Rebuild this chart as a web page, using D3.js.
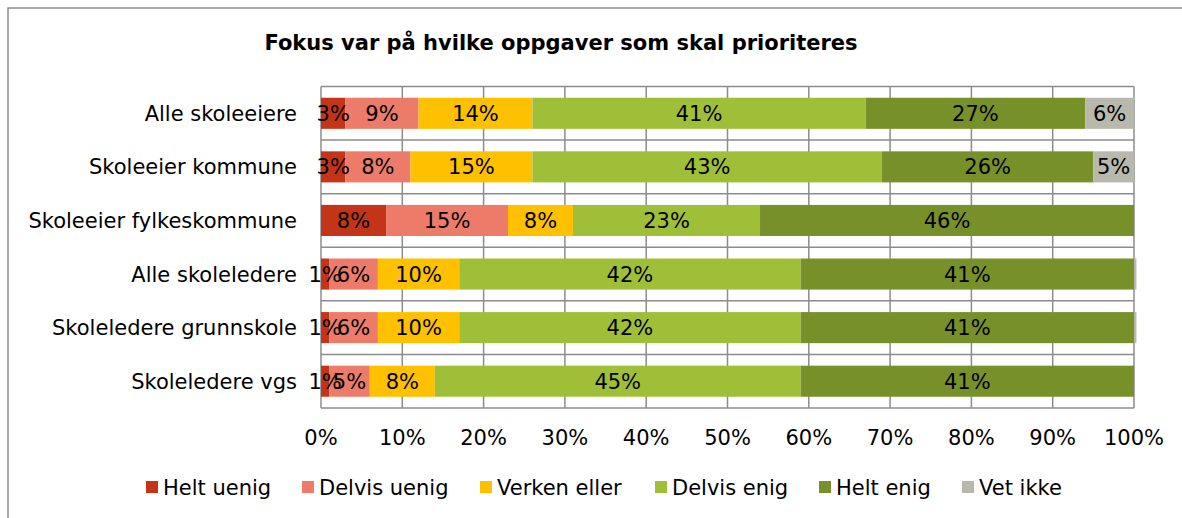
<!DOCTYPE html>
<html>
<head>
<meta charset="utf-8">
<script src="https://cdn.jsdelivr.net/npm/d3@7"></script>
<style>
  body { margin: 0; background: #fff; }
  text { font-family: "DejaVu Sans", Verdana, sans-serif; fill: #000; }
</style>
</head>
<body>
<div id="chart"></div>
<script>
var categories = ["Alle skoleeiere", "Skoleeier kommune", "Skoleeier fylkeskommune",
  "Alle skoleledere", "Skoleledere grunnskole", "Skoleledere vgs"];
var seriesNames = ["Helt uenig", "Delvis uenig", "Verken eller", "Delvis enig", "Helt enig", "Vet ikke"];
var seriesColors = ["#c33419", "#ed7b6a", "#ffc000", "#a0bf38", "#78902a", "#b8b8ad"];
var values = [
  [3, 9, 14, 41, 27, 6],
  [3, 8, 15, 43, 26, 5],
  [8, 15, 8, 23, 46, 0],
  [1, 6, 10, 42, 41, 0.3],
  [1, 6, 10, 42, 41, 0.3],
  [1, 5, 8, 45, 41, 0]
];
var labels = [
  ["3%", "9%", "14%", "41%", "27%", "6%"],
  ["3%", "8%", "15%", "43%", "26%", "5%"],
  ["8%", "15%", "8%", "23%", "46%", ""],
  ["1%", "6%", "10%", "42%", "41%", ""],
  ["1%", "6%", "10%", "42%", "41%", ""],
  ["1%", "5%", "8%", "45%", "41%", ""]
];
var ticks = [0, 10, 20, 30, 40, 50, 60, 70, 80, 90, 100];

var W = 1182, H = 518;
var svg = d3.select("#chart").append("svg")
  .attr("width", W).attr("height", H);

// outer chart border
svg.append("rect")
  .attr("x", 8).attr("y", 8)
  .attr("width", W).attr("height", H)
  .attr("fill", "none").attr("stroke", "#8c8c8c").attr("stroke-width", 1.5);

svg.append("text")
  .attr("x", 561).attr("y", 50)
  .attr("text-anchor", "middle")
  .attr("font-size", "21px").attr("font-weight", "bold")
  .text("Fokus var på hvilke oppgaver som skal prioriteres");

var x = d3.scaleLinear().domain([0, 100]).range([321, 1134]);
var y = d3.scaleBand().domain(categories).range([86.5, 408])
  .paddingInner(0.42).paddingOuter(0.21);

var grid = svg.append("g").attr("stroke", "#8c8c8c").attr("stroke-width", 1.5);

grid.selectAll(".vline")
  .data(ticks)
  .enter()
  .append("line")
  .attr("class", "vline")
  .attr("x1", (d)=>(x(d))).attr("x2", (d)=>(x(d)))
  .attr("y1", 86.5).attr("y2", 408);

var step = y.step();
var bounds = d3.range(0, categories.length + 1).map(function(i) {
  return 86.5 + i * step;
});
grid.selectAll(".hline")
  .data(bounds)
  .enter()
  .append("line")
  .attr("class", "hline")
  .attr("x1", x(0)).attr("x2", x(100))
  .attr("y1", (d)=>(d)).attr("y2", (d)=>(d));

// stacked bars
var rows = svg.selectAll(".row")
  .data(categories)
  .enter()
  .append("g")
  .attr("class", "row");

rows.each(function(cat, i) {
  var g = d3.select(this);
  var start = 0;
  var segs = values[i].map(function(v, j) {
    var s = { x0: start, x1: start + v, color: seriesColors[j], label: labels[i][j] };
    start += v;
    return s;
  });
  g.selectAll("rect")
    .data(segs.filter((d)=>(d.x1 > d.x0)))
    .enter()
    .append("rect")
    .attr("x", (d)=>(x(d.x0)))
    .attr("width", (d)=>(x(d.x1) - x(d.x0)))
    .attr("y", y(cat))
    .attr("height", y.bandwidth())
    .attr("fill", (d)=>(d.color));
  g.selectAll("text")
    .data(segs.filter((d)=>(d.label != "")))
    .enter()
    .append("text")
    .attr("x", (d)=>((x(d.x0) + x(d.x1)) / 2))
    .attr("y", y(cat) + y.bandwidth() / 2)
    .attr("dy", "0.36em")
    .attr("text-anchor", "middle")
    .attr("font-size", "21px")
    .text((d)=>(d.label));
});

// category labels
svg.selectAll(".catLabel")
  .data(categories)
  .enter()
  .append("text")
  .attr("class", "catLabel")
  .attr("x", 297)
  .attr("y", (d)=>(y(d) + y.bandwidth() / 2))
  .attr("dy", "0.36em")
  .attr("text-anchor", "end")
  .attr("font-size", "21px")
  .text((d)=>(d));

// x tick labels
svg.selectAll(".tickLabel")
  .data(ticks)
  .enter()
  .append("text")
  .attr("class", "tickLabel")
  .attr("x", (d)=>(x(d)))
  .attr("y", 437)
  .attr("dy", "0.36em")
  .attr("text-anchor", "middle")
  .attr("font-size", "21px")
  .text((d)=>(d + "%"));

// legend
var legendX = [146, 302, 480, 655, 819, 962];
var legend = svg.selectAll(".legendItem")
  .data(seriesNames)
  .enter()
  .append("g")
  .attr("class", "legendItem")
  .attr("transform", (d, i)=>("translate(" + legendX[i] + ",487)"));
legend.append("rect")
  .attr("x", 0).attr("y", -6)
  .attr("width", 12).attr("height", 12)
  .attr("fill", (d, i)=>(seriesColors[i]));
legend.append("text")
  .attr("x", 17).attr("y", 0)
  .attr("dy", "0.36em")
  .attr("font-size", "21px")
  .text((d)=>(d));
</script>
</body>
</html>
